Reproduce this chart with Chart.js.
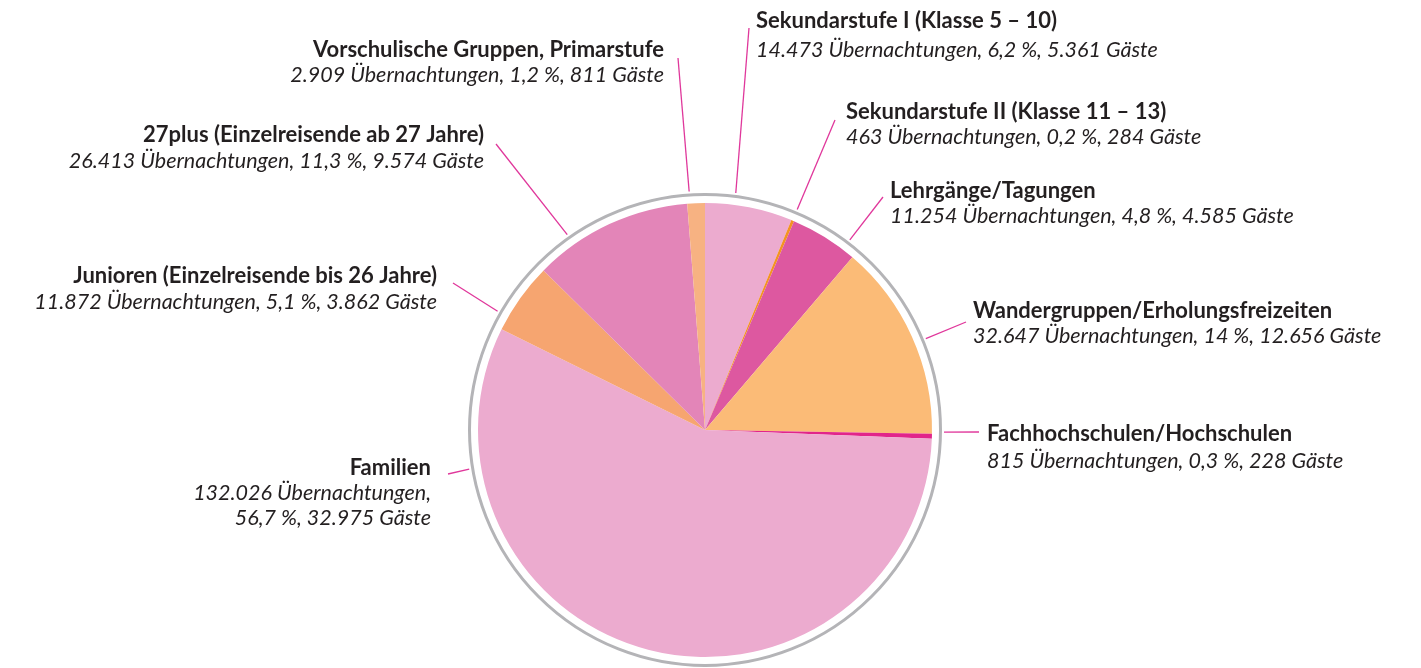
<!DOCTYPE html>
<html lang="de">
<head>
<meta charset="utf-8">
<title>Übernachtungen nach Gästegruppen</title>
<script src="https://cdn.jsdelivr.net/npm/chart.js@4.4.1/dist/chart.umd.min.js"></script>
<style>
  html, body { margin: 0; padding: 0; background: #fff; }
  #wrap { width: 1421px; height: 668px; }
</style>
</head>
<body>
<div id="wrap"><canvas id="chart-gruppen" width="1421" height="668"></canvas></div>
<script>
// Übernachtungen nach Gästegruppen (Uhrzeigersinn ab 12 Uhr)

const kategorien = [
  'Sekundarstufe I (Klasse 5 – 10)',
  'Sekundarstufe II (Klasse 11 – 13)',
  'Lehrgänge/Tagungen',
  'Wandergruppen/Erholungsfreizeiten',
  'Fachhochschulen/Hochschulen',
  'Familien',
  'Junioren (Einzelreisende bis 26 Jahre)',
  '27plus (Einzelreisende ab 27 Jahre)',
  'Vorschulische Gruppen, Primarstufe'
];
const uebernachtungen = [14473, 463, 11254, 32647, 815, 132026, 11872, 26413, 2909];
const anteile = [6.2, 0.2, 4.8, 14, 0.3, 56.7, 5.1, 11.3, 1.2];
const gaeste = [5361, 284, 4585, 12656, 228, 32975, 3862, 9574, 811];

const farben = ['#ecabcf', '#f39322', '#dd58a0', '#fbbb77', '#e1258a', '#ecabcf', '#f6a570', '#e385b8', '#f7b282'];

// Beschriftung: Seite, Anker x, y der ersten Zeile, Zeilenabstand, Winkel am Ring, Linienende
const beschriftung = [
  { align: 'left',  x: 756, y: 21,  gap: 29, winkel: 7.4,   ex: 749, ey: 28 },
  { align: 'left',  x: 846, y: 112, gap: 25, winkel: 22.7,  ex: 835, ey: 120 },
  { align: 'left',  x: 890, y: 191, gap: 25, winkel: 37.3,  ex: 883, ey: 197 },
  { align: 'left',  x: 973, y: 311, gap: 25, winkel: 67.5,  ex: 966, ey: 322 },
  { align: 'left',  x: 987, y: 434, gap: 27, winkel: 90.5,  ex: 979, ey: 432 },
  { align: 'right', x: 431, y: 468, gap: 25, winkel: 260.6, ex: 448, ey: 474, umbruch: true },
  { align: 'right', x: 437, y: 276, gap: 26, winkel: 299.8, ex: 453, ey: 283 },
  { align: 'right', x: 484, y: 135, gap: 26, winkel: 324.8, ex: 496, ey: 144 },
  { align: 'right', x: 664, y: 50,  gap: 25, winkel: 356.2, ex: 678, ey: 58 }
];

function formatZahl(n) {
  return String(n).replace(/\B(?=(\d{3})+(?!\d))/g, '.');
}
function formatProzent(p) {
  return String(p).replace('.', ',') + '\u202F%';
}

const labelPlugin = {
  id: 'gruppenLabels',
  afterDatasetsDraw(chart) {
    const ctx = chart.ctx;
    const first = chart.getDatasetMeta(0).data[0];
    const cx = first.x, cy = first.y, R = first.outerRadius;

    ctx.save();
    // grauer Ring
    ctx.beginPath();
    ctx.arc(cx, cy, R + 8.5, 0, Math.PI * 2);
    ctx.strokeStyle = '#b4b4b7';
    ctx.lineWidth = 3;
    ctx.stroke();

    // Verbindungslinien
    ctx.strokeStyle = '#e0379b';
    ctx.lineWidth = 1.3;
    beschriftung.forEach(b => {
      const a = b.winkel * Math.PI / 180;
      const r = R + 12;
      ctx.beginPath();
      ctx.moveTo(cx + r * Math.sin(a), cy - r * Math.cos(a));
      ctx.lineTo(b.ex, b.ey);
      ctx.stroke();
    });

    // Texte
    ctx.fillStyle = '#231f20';
    ctx.textBaseline = 'middle';
    kategorien.forEach((name, i) => {
      const b = beschriftung[i];
      ctx.textAlign = b.align;
      ctx.font = 'bold 22px Lato, "Noto Sans", sans-serif';
      ctx.fillText(name, b.x, b.y);

      ctx.font = 'italic 21.5px Lato, "Noto Sans", sans-serif';
      const n = formatZahl(uebernachtungen[i]) + ' Übernachtungen,';
      const rest = formatProzent(anteile[i]) + ', ' + formatZahl(gaeste[i]) + ' Gäste';
      if (b.umbruch) {
        ctx.fillText(n, b.x, b.y + b.gap);
        ctx.fillText(rest, b.x, b.y + b.gap * 2);
      } else {
        ctx.fillText(n + ' ' + rest, b.x, b.y + b.gap);
      }
    });
    ctx.restore();
  }
};

new Chart(document.getElementById('chart-gruppen'), {
  type: 'pie',
  data: {
    labels: kategorien,
    datasets: [{
      data: uebernachtungen,
      backgroundColor: farben,
      borderWidth: 0,
      hoverOffset: 0,
      offset: 0
    }]
  },
  options: {
    responsive: false,
    animation: false,
    events: [],
    devicePixelRatio: 1,
    layout: { padding: { left: 478, right: 489, top: 203, bottom: 11 } },
    plugins: { legend: { display: false }, tooltip: { enabled: false } }
  },
  plugins: [labelPlugin]
});
</script>
</body>
</html>
